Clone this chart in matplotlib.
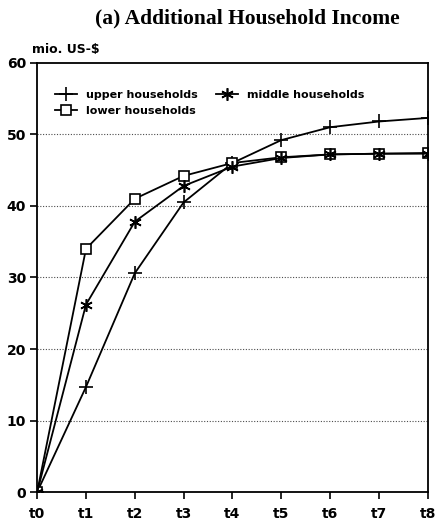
import matplotlib
matplotlib.use("Agg")
import matplotlib.pyplot as plt

# Data
periods = ["t0", "t1", "t2", "t3", "t4", "t5", "t6", "t7", "t8"]
upper = [0, 14.7, 30.6, 40.5, 46.0, 49.2, 51.0, 51.8, 52.3]
middle = [0, 26.2, 37.8, 42.8, 45.5, 46.7, 47.2, 47.3, 47.3]
lower = [0, 34.0, 41.0, 44.2, 46.0, 46.8, 47.2, 47.3, 47.4]
y_ticks = [0, 10, 20, 30, 40, 50, 60]

fig = plt.figure(figsize=(4.37, 5.28), dpi=100)
ax = fig.add_axes([0.085, 0.068, 0.894, 0.813])

x = list(range(len(periods)))
ax.plot(x, upper, color="black", lw=1.3, marker="+", ms=10, mew=1.2,
        label="upper households")
ax.plot(x, lower, color="black", lw=1.3, marker="s", ms=6.5, mew=1.2,
        mfc="white", label="lower households")
ax.plot(x, middle, color="black", lw=1.3, marker=(6, 2, 0), ms=9, mew=1.2,
        label="middle households")

ax.set_xlim(0, 8)
ax.set_ylim(0, 60)
ax.set_xticks(x)
ax.set_xticklabels(periods, fontsize=10, fontweight="bold")
ax.set_yticks(y_ticks)
ax.set_yticklabels([str(v) for v in y_ticks], fontsize=10, fontweight="bold")
ax.tick_params(axis="x", direction="out", length=5, width=1.2, pad=6)
ax.tick_params(axis="y", direction="out", length=5, width=1.2, pad=3)

# dotted horizontal grid
for v in y_ticks[1:-1]:
    ax.axhline(v, color="black", lw=0.8, ls=(0, (1, 1.5)), alpha=0.7, zorder=0)

for s in ax.spines.values():
    s.set_linewidth(1.3)
ax.patch.set_visible(False)

ax.text(-0.1, 61.0, "mio. US-$", fontsize=9, fontweight="bold", ha="left",
        va="bottom", clip_on=False)

leg = ax.legend(loc="upper left", ncol=2, frameon=False, fontsize=8,
                bbox_to_anchor=(0.02, 0.96), handlelength=2.0,
                columnspacing=1.6, labelspacing=0.55)
for t in leg.get_texts():
    t.set_fontweight("bold")

fig.text(0.565, 0.965, "(a) Additional Household Income", ha="center",
         va="center", fontsize=15.5, fontweight="bold", family="Liberation Serif")

fig.savefig("out.png", dpi=100)
